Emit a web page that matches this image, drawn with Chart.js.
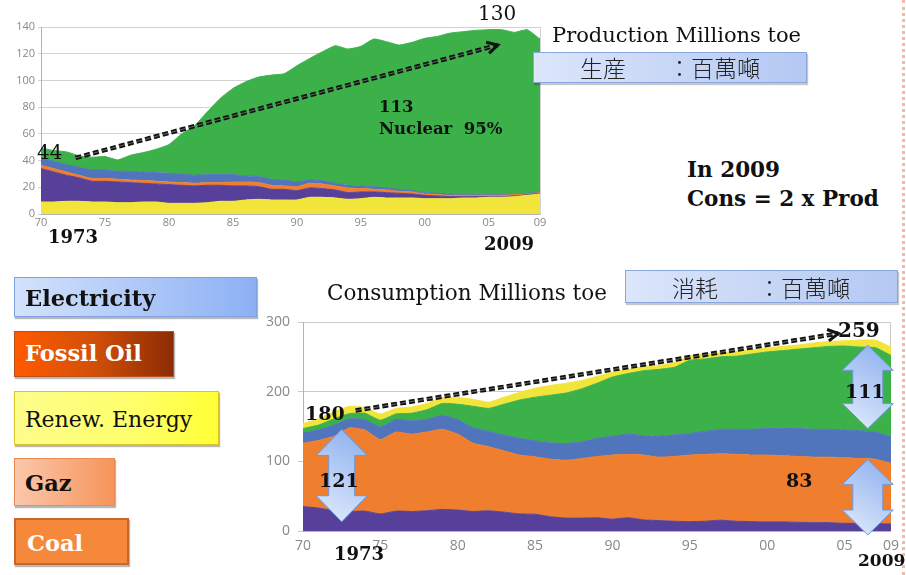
<!DOCTYPE html>
<html>
<head>
<meta charset="utf-8">
<script src="https://cdn.jsdelivr.net/npm/chart.js@4.4.1/dist/chart.umd.min.js"></script>
<style>
  html, body { margin: 0; padding: 0; background: #fff; }
  #page { position: relative; width: 906px; height: 575px; overflow: hidden; font-family: "DejaVu Serif", serif; color: #111; }
  #page canvas { position: absolute; }
  .t { position: absolute; white-space: nowrap; line-height: 1; z-index: 3; }
  .b { font-weight: bold; }
  .key { position: absolute; box-sizing: border-box; z-index: 2; box-shadow: 1px 2px 1px rgba(0,0,0,.28); }
  .jp { position: absolute; box-sizing: border-box; z-index: 2; border: 1px solid #8aa6df;
        background: linear-gradient(to right, #dce6fb, #b4c8f2); box-shadow: 1px 2px 1px rgba(0,0,0,.22); }
  .cjk { position: absolute; white-space: nowrap; line-height: 1; z-index: 3; font-family: "Noto Sans CJK JP", sans-serif;
         font-weight: 300; font-size: 23px; color: #222; }
  #edge { position: absolute; left: 902px; top: 0; width: 0; height: 575px; border-left: 3px dotted #f5b7a6; }
</style>
</head>
<body>
<div id="page">
  <canvas id="prod" width="555" height="228" style="left:0;top:17px"></canvas>
  <canvas id="cons" width="656" height="270" style="left:250px;top:300px"></canvas>

  <!-- top chart texts -->
  <div class="t" style="left:478px;top:3px;font-size:20px">130</div>
  <div class="t" style="left:552px;top:25px;font-size:21px">Production Millions toe</div>
  <div class="jp" style="left:533px;top:52px;width:274px;height:31px"></div>
  <div class="cjk" style="left:580px;top:56px">生産</div>
  <div class="cjk" style="left:668px;top:56px">：百萬噸</div>
  <div class="t" style="left:37px;top:142px;font-size:20px">44</div>
  <div class="t b" style="left:379px;top:99px;font-size:16.5px">113</div>
  <div class="t b" style="left:379px;top:121px;font-size:16.5px">Nuclear&nbsp; 95%</div>
  <div class="t b" style="left:48px;top:228px;font-size:18px">1973</div>
  <div class="t b" style="left:484px;top:235px;font-size:18px">2009</div>
  <div class="t b" style="left:687px;top:159px;font-size:21.5px">In 2009</div>
  <div class="t b" style="left:687px;top:188px;font-size:21.5px">Cons = 2 x Prod</div>

  <!-- energy keys -->
  <div class="key" style="left:14px;top:277px;width:243px;height:40px;border:1px solid #7ea0e0;background:linear-gradient(to right,#d3e2fc,#8db0f4)"></div>
  <div class="t b" style="left:25px;top:287px;font-size:22.5px">Electricity</div>
  <div class="key" style="left:14px;top:331px;width:160px;height:46px;border:1px solid #b8501a;background:linear-gradient(to right,#ff5a00,#d24f08 50%,#8c2c04)"></div>
  <div class="t b" style="left:25px;top:342px;font-size:22.5px;color:#fff">Fossil Oil</div>
  <div class="key" style="left:14px;top:391px;width:205px;height:54px;border:1px solid #d9c227;background:linear-gradient(to right,#fdfd8c,#ffff6a 60%,#ffff34)"></div>
  <div class="t" style="left:25px;top:409px;font-size:22px">Renew. Energy</div>
  <div class="key" style="left:14px;top:458px;width:101px;height:48px;border:1px solid #e98b52;background:linear-gradient(to right,#fbc7ab,#f6945a)"></div>
  <div class="t b" style="left:25px;top:472px;font-size:22.5px">Gaz</div>
  <div class="key" style="left:14px;top:518px;width:115px;height:47px;border:2px solid #c5682c;background:#f5883a"></div>
  <div class="t b" style="left:27px;top:532px;font-size:22.5px;color:#fff">Coal</div>

  <!-- bottom chart texts -->
  <div class="t" style="left:327px;top:282px;font-size:21.5px">Consumption Millions toe</div>
  <div class="jp" style="left:625px;top:270px;width:273px;height:33px"></div>
  <div class="cjk" style="left:672px;top:276px">消耗</div>
  <div class="cjk" style="left:758px;top:276px">：百萬噸</div>
  <div class="t b" style="left:305px;top:404px;font-size:19px">180</div>
  <div class="t b" style="left:319px;top:471px;font-size:19px">121</div>
  <div class="t b" style="left:786px;top:471px;font-size:19px">83</div>
  <div class="t b" style="left:845px;top:382px;font-size:19px">111</div>
  <div class="t b" style="left:838px;top:320px;font-size:20px">259</div>
  <div class="t b" style="left:334px;top:545px;font-size:18px">1973</div>
  <div class="t b" style="left:858px;top:552px;font-size:17px">2009</div>
  <div id="edge"></div>
</div>

<script>
// Production, millions toe: top edge of each stacked band (bottom to top)
const prodYears = [1970, 1971, 1972, 1973, 1974, 1975, 1976, 1977, 1978, 1979,
  1980, 1981, 1982, 1983, 1984, 1985, 1986, 1987, 1988, 1989,
  1990, 1991, 1992, 1993, 1994, 1995, 1996, 1997, 1998, 1999,
  2000, 2001, 2002, 2003, 2004, 2005, 2006, 2007, 2008, 2009]
const prodRenewTop = [9, 9, 9.5, 9.5, 9, 9, 8.5, 8.5, 9, 9,
  8, 8, 8, 8.5, 9.5, 9.5, 10.5, 11, 10.5, 10.5,
  10.5, 12.5, 12.5, 12, 11, 11.5, 12.5, 12, 12, 12,
  11.5, 11.5, 11.5, 12, 12, 12.5, 12.5, 13, 14, 15]
const prodCoalTop = [34, 31.5, 29, 27, 24.5, 24.5, 24, 23.5, 23, 22.5,
  22, 21.5, 21, 21.5, 21.5, 21, 21, 20.5, 18.5, 18.5,
  17.5, 19.5, 19, 18, 16, 16.5, 16.5, 16, 15.5, 15,
  14, 13.5, 13, 13, 13, 13, 13, 13.5, 14.5, 15.5]
const prodOilTop = [36.5, 34, 31.5, 29, 26.5, 26.5, 26, 25.5, 25, 24.5,
  24, 23.5, 23, 23.5, 23.5, 24, 24, 23.5, 21.5, 21,
  20.5, 23, 22.5, 21, 19.5, 19, 18.5, 18, 17, 16.5,
  15, 14.5, 14, 14, 14, 14, 14, 14.5, 15, 16]
const prodGasTop = [41.5, 39.5, 37, 35, 33, 33, 32, 32, 31.5, 31,
  30.5, 30, 29, 29.5, 29.5, 29.5, 28.5, 28, 26, 25.5,
  24, 25.5, 25, 23, 21.5, 21, 20.5, 19.5, 18.5, 17.5,
  16, 15.5, 15, 14.5, 14.5, 14.5, 14.5, 15, 15.5, 16.5]
const prodTotal = [49.5, 47.5, 46.5, 43.5, 42.5, 43, 40.5, 44, 46, 48.5,
  52, 60, 66, 76.5, 86.5, 94, 99, 102.5, 104, 105,
  111, 116.5, 121.5, 126, 123.5, 125.5, 131, 129, 126.5, 128.5,
  131.5, 133, 135.5, 136.5, 137.5, 138, 138, 136, 138, 131]
const prodTicks = [1970, 1975, 1980, 1985, 1990, 1995, 2000, 2005, 2009]

// Consumption, millions toe: top edge of each stacked band (bottom to top)
const consYears = [1970, 1971, 1972, 1973, 1974, 1975, 1976, 1977, 1978, 1979,
  1980, 1981, 1982, 1983, 1984, 1985, 1986, 1987, 1988, 1989,
  1990, 1991, 1992, 1993, 1994, 1995, 1996, 1997, 1998, 1999,
  2000, 2001, 2002, 2003, 2004, 2005, 2006, 2007, 2008]
const consCoalTop = [35, 33, 29, 28, 28.5, 24.5, 28.5, 28, 29, 31,
  30, 28, 29, 27, 24.5, 24, 20.5, 18.5, 18.5, 19,
  17, 19, 16, 15, 14, 13.5, 14, 15.5, 14, 13.5,
  13, 13, 12.5, 12, 12, 11, 11, 10.5, 10]
const consOilTop = [126, 130, 136, 148, 145, 131, 142, 139, 142, 146,
  139, 126, 121, 115, 109, 106.5, 103, 101.5, 104, 107,
  109, 110, 109, 106, 107, 109, 110, 111, 110, 109,
  109, 108, 107, 106, 106, 105, 104, 103, 97]
const consGasTop = [141, 145, 152, 161, 160, 149, 160, 158, 160, 166,
  160, 148, 143, 137.5, 133, 129.5, 126.5, 125.5, 128, 133,
  136, 139, 137, 136, 138, 140, 143, 146, 146, 146,
  147, 147, 147, 146, 146, 145, 144, 142, 135]
const consElecTop = [147, 152, 161, 168.5, 169, 159, 168, 169, 174, 183,
  182, 179, 176, 182, 188, 192, 195, 198, 204, 212,
  221, 226, 230, 232, 235, 245, 247, 250, 251, 254,
  257, 259, 261, 263, 265, 265.5, 264, 263, 252]
const consTotal = [154, 161, 171, 179, 177, 168, 176, 178, 183, 191.5,
  191.5, 189, 185, 192, 199, 205, 209, 212, 216, 222,
  228, 232, 236, 238, 242, 251, 254, 256, 258, 260,
  263, 265, 267, 270, 272, 273, 274, 274, 264]
const consTicks = [1970, 1975, 1980, 1985, 1990, 1995, 2000, 2005, 2008]
const consTickText = ['70', '75', '80', '85', '90', '95', '00', '05', '09']

// annotations, in data units of each chart
const prodTrend = { from: [1972.7, 42], to: [2005.7, 126.5] }
const consTrend = { from: [1973.4, 173], to: [2004.6, 283.5] }
const consSpans = [
  { x: 1972.5, top: 145.7, bottom: 13.3, head: 51, shaft: 26, headLen: 26 },
  { x: 2006.5, top: 266.5, bottom: 147, head: 51, shaft: 30, headLen: 25 },
  { x: 2006.5, top: 102.7, bottom: -5.7, head: 51, shaft: 30, headLen: 25 }
]

const colors = { renew: '#f1e53c', coal: '#574099', oil: '#ef7e2e', gas: '#5075bd', elec: '#3cb14a' }
const tickFont = 'Open Sans'

function band(years, values, color, fill) {
  return {
    data: years.map((yr, i) => ({ x: yr, y: values[i] })),
    backgroundColor: color,
    borderColor: color,
    borderWidth: 1,
    fill: fill,
    pointRadius: 0,
    tension: 0.15
  }
}

function dashedArrow(ctx, x1, y1, x2, y2) {
  ctx.save()
  ctx.setLineDash([6, 3])
  ctx.strokeStyle = '#111'
  ctx.lineWidth = 4.5
  ctx.beginPath(); ctx.moveTo(x1, y1); ctx.lineTo(x2, y2); ctx.stroke()
  ctx.strokeStyle = 'rgba(255,255,255,0.35)'
  ctx.lineWidth = 1
  ctx.beginPath(); ctx.moveTo(x1, y1); ctx.lineTo(x2, y2); ctx.stroke()
  // open arrow head
  const ang = Math.atan2(y2 - y1, x2 - x1)
  ctx.setLineDash([])
  ctx.strokeStyle = '#111'
  ctx.lineWidth = 3
  ctx.beginPath()
  ctx.moveTo(x2 - 12 * Math.cos(ang - 0.5), y2 - 12 * Math.sin(ang - 0.5))
  ctx.lineTo(x2, y2)
  ctx.lineTo(x2 - 12 * Math.cos(ang + 0.5), y2 - 12 * Math.sin(ang + 0.5))
  ctx.stroke()
  ctx.restore()
}

function doubleArrow(ctx, cx, yt, yb, head, shaft, hl) {
  const hw = head / 2, sw = shaft / 2
  ctx.save()
  ctx.beginPath()
  ctx.moveTo(cx, yt)
  ctx.lineTo(cx + hw, yt + hl)
  ctx.lineTo(cx + sw, yt + hl)
  ctx.lineTo(cx + sw, yb - hl)
  ctx.lineTo(cx + hw, yb - hl)
  ctx.lineTo(cx, yb)
  ctx.lineTo(cx - hw, yb - hl)
  ctx.lineTo(cx - sw, yb - hl)
  ctx.lineTo(cx - sw, yt + hl)
  ctx.lineTo(cx - hw, yt + hl)
  ctx.closePath()
  const g = ctx.createLinearGradient(cx + hw, yt, cx - hw, yb)
  g.addColorStop(0, '#8aaeee')
  g.addColorStop(1, '#e3ecfc')
  ctx.fillStyle = g
  ctx.fill()
  ctx.strokeStyle = '#6f97db'
  ctx.lineWidth = 1
  ctx.stroke()
  ctx.restore()
}

const arrowsPlugin = {
  id: 'arrows',
  afterDatasetsDraw(chart, args, opts) {
    const { ctx, scales } = chart
    const px = v => scales.x.getPixelForValue(v)
    const py = v => scales.y.getPixelForValue(v)
    ;(opts.spans || []).forEach(a => doubleArrow(ctx, px(a.x), py(a.top), py(a.bottom), a.head, a.shaft, a.headLen))
    ;(opts.dashed || []).forEach(a => dashedArrow(ctx, px(a.from[0]), py(a.from[1]), px(a.to[0]), py(a.to[1])))
  }
}

new Chart(document.getElementById('prod'), {
  type: 'line',
  data: {
    datasets: [
      band(prodYears, prodRenewTop, colors.renew, 'origin'),
      band(prodYears, prodCoalTop, colors.coal, '-1'),
      band(prodYears, prodOilTop, colors.oil, '-1'),
      band(prodYears, prodGasTop, colors.gas, '-1'),
      band(prodYears, prodTotal, colors.elec, '-1')
    ]
  },
  options: {
    responsive: false,
    animation: false,
    layout: { padding: { top: 10, right: 15, left: 0, bottom: 0 } },
    plugins: { legend: { display: false }, tooltip: { enabled: false }, arrows: { dashed: [prodTrend] } },
    scales: {
      x: {
        type: 'linear', min: 1970, max: 2009,
        afterBuildTicks: s => { s.ticks = prodTicks.map(v => ({ value: v })) },
        ticks: { callback: v => String(v).slice(2), color: '#888', font: { family: tickFont, size: 11 }, padding: 2, maxRotation: 0, autoSkip: false },
        grid: { display: false, drawTicks: false },
        border: { color: '#b4b4b4' },
        afterFit: s => { s.height = 31 }
      },
      y: {
        min: 0, max: 140,
        ticks: { stepSize: 20, color: '#888', font: { family: tickFont, size: 11 }, padding: 3 },
        grid: { color: '#d2d2d2', tickLength: 3 },
        border: { color: '#b4b4b4' },
        afterFit: s => { s.width = 41 }
      },
      yr: {
        position: 'right', min: 0, max: 140,
        ticks: { display: false },
        grid: { display: false },
        border: { color: '#d2d2d2' },
        afterFit: s => { s.width = 0 }
      }
    }
  },
  plugins: [arrowsPlugin]
})

new Chart(document.getElementById('cons'), {
  type: 'line',
  data: {
    datasets: [
      band(consYears, consCoalTop, colors.coal, 'origin'),
      band(consYears, consOilTop, colors.oil, '-1'),
      band(consYears, consGasTop, colors.gas, '-1'),
      band(consYears, consElecTop, colors.elec, '-1'),
      band(consYears, consTotal, colors.renew, '-1')
    ]
  },
  options: {
    responsive: false,
    animation: false,
    layout: { padding: { top: 22, right: 14, left: 0, bottom: 0 } },
    plugins: { legend: { display: false }, tooltip: { enabled: false }, arrows: { dashed: [consTrend], spans: consSpans } },
    scales: {
      x: {
        type: 'linear', min: 1970, max: 2008,
        afterBuildTicks: s => { s.ticks = consTicks.map(v => ({ value: v })) },
        ticks: { callback: (v, i) => consTickText[i], color: '#888', font: { family: tickFont, size: 14 }, padding: 7, maxRotation: 0, autoSkip: false },
        grid: { display: false, drawTicks: false },
        border: { color: '#b4b4b4' },
        afterFit: s => { s.height = 39 }
      },
      y: {
        min: 0, max: 300,
        ticks: { stepSize: 100, color: '#888', font: { family: tickFont, size: 14 }, padding: 8 },
        grid: { color: '#cacaca', tickLength: 5 },
        border: { color: '#b4b4b4' },
        afterFit: s => { s.width = 53 }
      },
      yr: {
        position: 'right', min: 0, max: 300,
        ticks: { display: false },
        grid: { display: false },
        border: { color: '#cacaca' },
        afterFit: s => { s.width = 0 }
      }
    }
  },
  plugins: [arrowsPlugin]
})
</script>
</body>
</html>
